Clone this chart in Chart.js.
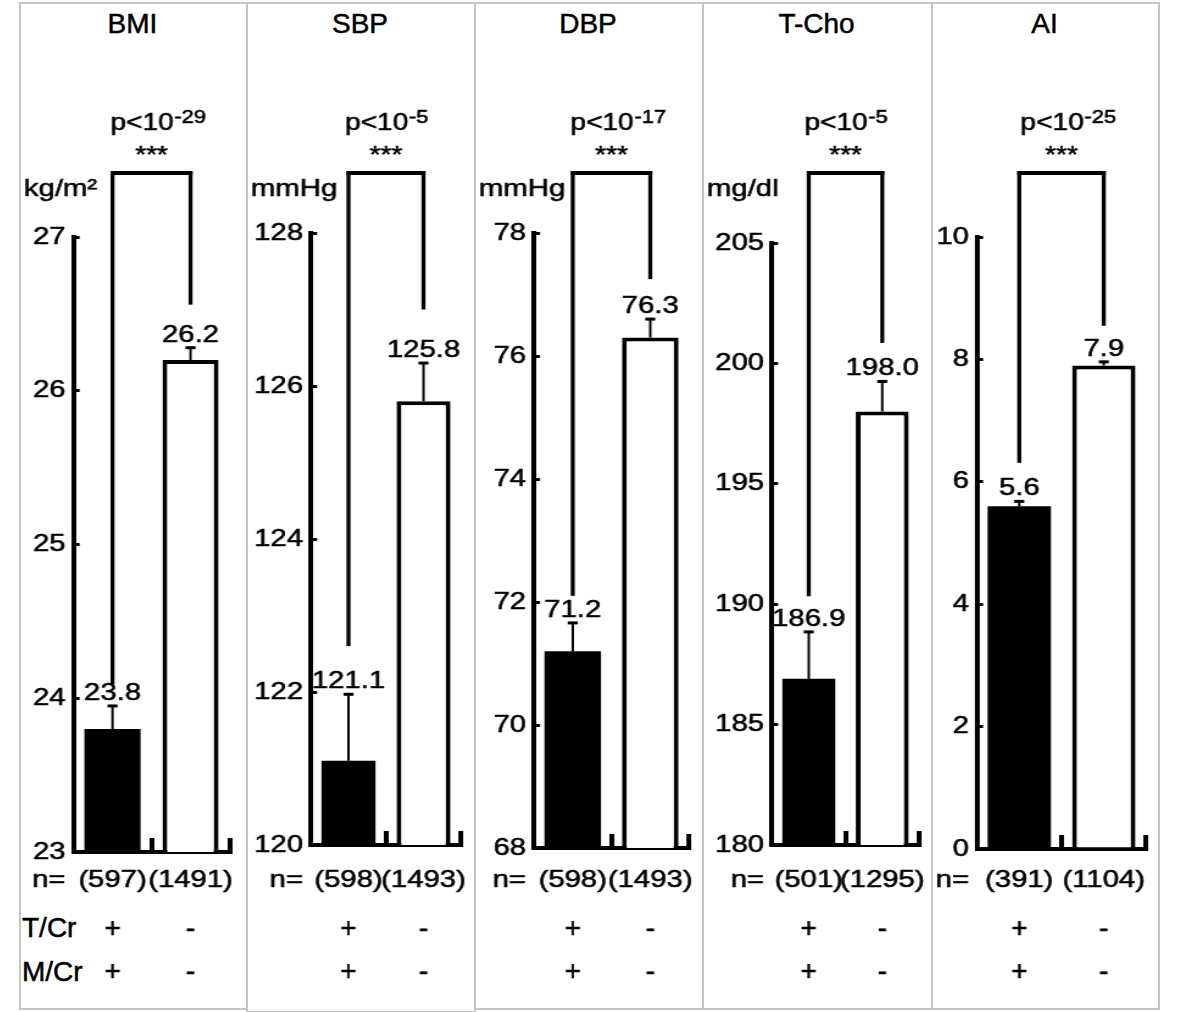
<!DOCTYPE html>
<html><head><meta charset="utf-8">
<script src="https://cdn.jsdelivr.net/npm/chart.js@4.4.1/dist/chart.umd.min.js"></script>
<style>
html,body{margin:0;padding:0;background:#fff;}
body{width:1200px;height:1012px;position:relative;overflow:hidden;font-family:'Liberation Sans',Arial,sans-serif;color:#000;}
.panel{position:absolute;top:2px;box-sizing:border-box;border:2px solid #c4c4c4;}
.title{position:absolute;top:10px;text-align:center;font-size:28px;line-height:28px;white-space:nowrap;-webkit-text-stroke:0.5px #000;}
.row{position:absolute;left:22px;font-size:28px;line-height:28px;white-space:nowrap;-webkit-text-stroke:0.5px #000;}
.wrap{position:absolute;top:0;transform-origin:0 0;}
canvas{display:block;}
</style>
</head><body>
<script>
// ---------------- data ----------------
const categories = ['BMI', 'SBP', 'DBP', 'T-Cho', 'AI'];
const units = ['kg/m\u00b2', 'mmHg', 'mmHg', 'mg/dl', ''];
const yMin = [23, 120, 68, 180, 0];
const yMax = [27, 128, 78, 205, 10];
const yStep = [1, 2, 2, 5, 2];
const meanPos = [23.8, 121.1, 71.2, 186.9, 5.6];   // T/Cr + , M/Cr +
const meanNeg = [26.2, 125.8, 76.3, 198.0, 7.9];   // T/Cr - , M/Cr -
const errPos = [0.15, 0.87, 0.46, 1.95, 0.08];
const errNeg = [0.08, 0.50, 0.30, 1.25, 0.06];
const nPos = [597, 598, 598, 501, 391];
const nNeg = [1491, 1493, 1493, 1295, 1104];
const pExp = ['-29', '-5', '-17', '-5', '-25'];
const stars = ['***', '***', '***', '***', '***'];
const bracketPos = [24.09, 122.6, 72.1, 190.33, 6.31];  // end of bracket leg (value units)
const bracketNeg = [26.56, 127.0, 77.25, 200.85, 8.55];
const signT = ['+', '-'];
const signM = ['+', '-'];

// ---------------- layout ----------------
const FONT = "'Liberation Sans', Arial, sans-serif";
const S = 1.22;              // horizontal stretch of the figure text
const H = 1012;
const edges = [19, 246, 474, 702, 931, 1158];
const panelBottom = [1009, 1012, 1009, 1009, 1009];
const axisX = [73.5, 311, 534, 772, 977];
const endX = [229.5, 461, 689, 919, 1146];
const topY = [237, 233, 233, 243, 237];
const botY = [852, 845, 848, 845, 849];
const barPct = [0.72, 0.72, 0.73, 0.72, 0.75];
const CW = 240;              // displayed canvas width
const XH = 10;
const STROKE = 0.55;

Chart.defaults.font.family = FONT;

for (let i = 0; i < 5; i++) {
  const L = edges[i];
  const box = document.createElement('div');
  box.className = 'panel';
  box.style.left = L + 'px';
  box.style.width = (edges[i + 1] - L + 2) + 'px';
  box.style.height = (panelBottom[i] - 2 + 1) + 'px';
  document.body.appendChild(box);
}
for (let i = 0; i < 5; i++) {
  const t = document.createElement('div');
  t.className = 'title';
  t.style.left = edges[i] + 'px';
  t.style.width = (edges[i + 1] - edges[i]) + 'px';
  t.textContent = categories[i];
  document.body.appendChild(t);
}
[['T/Cr', 914], ['M/Cr', 958]].forEach(([s, top]) => {
  const r = document.createElement('div');
  r.className = 'row'; r.style.top = top + 'px'; r.textContent = s;
  document.body.appendChild(r);
});

function txt(ctx, s, x, y, size, align, unstretch) {
  ctx.save();
  ctx.font = size + 'px ' + FONT;
  ctx.textAlign = align || 'left';
  ctx.textBaseline = 'alphabetic';
  ctx.translate(x, y);
  if (unstretch) ctx.scale(1 / S, 1);
  ctx.fillText(s, 0, 0);
  ctx.lineWidth = STROKE;
  ctx.strokeStyle = '#000';
  ctx.strokeText(s, 0, 0);
  ctx.restore();
}

function makePlugin(i) {
  return {
    id: 'annot' + i,
    afterDraw(chart) {
      const ctx = chart.ctx;
      const ys = chart.scales.y;
      const bars = chart.getDatasetMeta(0).data;
      const vals = [meanPos[i], meanNeg[i]];
      const errs = [errPos[i], errNeg[i]];
      const legs = [bracketPos[i], bracketNeg[i]];
      ctx.save();
      ctx.fillStyle = '#000';
      const vw = 2.4 / S, capW = 10 / S, capT = 3;
      bars.forEach((b, k) => {
        const x = b.x;
        const yt = ys.getPixelForValue(vals[k]);
        const ye = ys.getPixelForValue(vals[k] + errs[k]);
        ctx.fillRect(x - vw / 2, ye, vw, yt - ye);
        ctx.fillRect(x - capW / 2, ye - capT / 2, capW, capT);
        txt(ctx, vals[k].toFixed(1), x, ye - 6, 24, 'center');
        txt(ctx, chart.data.labels[k], x, 887, 24, 'center');
        txt(ctx, signT[k], x, 937, 28, 'center', true);
        txt(ctx, signM[k], x, 980, 28, 'center', true);
      });
      // bracket
      const lw = 4 / S, th = 4, yb = 173;
      const xL = bars[0].x, xR = bars[1].x;
      const yL = ys.getPixelForValue(legs[0]);
      const yR = ys.getPixelForValue(legs[1]);
      ctx.fillRect(xL - lw / 2, yb - th / 2, xR - xL + lw, th);
      ctx.fillRect(xL - lw / 2, yb - th / 2, lw, yL - yb + th / 2);
      ctx.fillRect(xR - lw / 2, yb - th / 2, lw, yR - yb + th / 2);
      const mid = (xL + xR) / 2;
      txt(ctx, stars[i], mid, 163, 23, 'center');
      // p-value
      ctx.font = '23px ' + FONT;
      const pl = 'p<10';
      const w = ctx.measureText(pl).width;
      const px = mid - 41 / S;
      txt(ctx, pl, px, 130, 23, 'left');
      txt(ctx, pExp[i], px + w + 0.5, 123, 18, 'left');
      if (units[i]) txt(ctx, units[i], 5 / S, 196, 24, 'left');
      txt(ctx, 'n=', chart.chartArea.left - 8 / S, 887, 24, 'right');
      ctx.restore();
    }
  };
}

for (let i = 0; i < 5; i++) {
  const L = edges[i];
  const wrap = document.createElement('div');
  wrap.className = 'wrap';
  wrap.style.left = L + 'px';
  wrap.style.transform = 'scaleX(' + S + ')';
  const cv = document.createElement('canvas');
  const Wi = Math.round(CW / S);
  cv.width = Wi; cv.height = H;
  wrap.appendChild(cv);
  document.body.appendChild(wrap);

  const yW = (axisX[i] - L) / S;
  const padRight = Wi - (endX[i] - L) / S;

  new Chart(cv, {
    type: 'bar',
    data: {
      labels: ['(' + nPos[i] + ')', '(' + nNeg[i] + ')'],
      datasets: [{
        data: [meanPos[i], meanNeg[i]],
        backgroundColor: ['#000000', '#ffffff'],
        borderColor: '#000000',
        borderWidth: [0, 4],
        borderSkipped: 'start',
        categoryPercentage: 1,
        barPercentage: barPct[i]
      }]
    },
    options: {
      responsive: false,
      animation: false,
      devicePixelRatio: 1,
      events: [],
      layout: { padding: { left: 0, right: padRight, top: topY[i], bottom: H - botY[i] - XH } },
      plugins: { legend: { display: false }, tooltip: { enabled: false } },
      scales: {
        x: {
          type: 'category',
          offset: true,
          grid: { display: true, offset: true, drawOnChartArea: false, drawTicks: true, tickLength: -14, lineWidth: 4, color: '#000' },
          border: { display: true, width: 4, color: '#000' },
          ticks: { display: false },
          afterFit(s) { s.height = XH; }
        },
        y: {
          type: 'linear',
          min: yMin[i], max: yMax[i],
          ticks: { stepSize: yStep[i], color: '#000', font: { family: FONT, size: 24 }, padding: 11.5,
                   textStrokeColor: '#000', textStrokeWidth: STROKE },
          grid: { drawOnChartArea: false, drawTicks: true, tickLength: -5, lineWidth: 3, color: '#000' },
          border: { display: true, width: 4, color: '#000' },
          afterFit(s) { s.width = yW; }
        }
      }
    },
    plugins: [makePlugin(i)]
  });
}
</script>
</body></html>
